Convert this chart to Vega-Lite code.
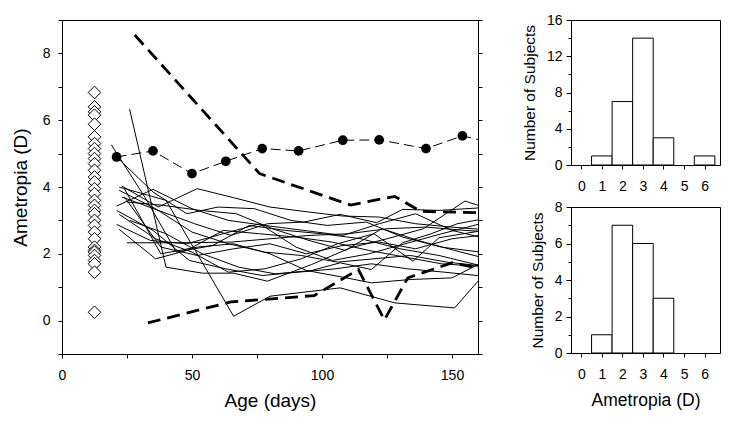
{
  "$schema": "https://vega.github.io/schema/vega-lite/v6.json",
  "padding": {"left": 10, "top": 12, "right": 5, "bottom": 5},
  "bounds": "flush",
  "spacing": 93,
  "background": "white",
  "config": {
    "font": "Liberation Sans",
    "view": {"stroke": "black", "strokeWidth": 1},
    "axis": {
      "grid": false,
      "domainColor": "black",
      "tickColor": "black",
      "labelColor": "black",
      "titleColor": "black",
      "labelFont": "Liberation Sans",
      "titleFont": "Liberation Sans",
      "titleFontWeight": "normal",
      "labelFontSize": 14,
      "labelFlush": false,
      "labelOverlap": false,
      "tickWidth": 1,
      "domainWidth": 1
    }
  },
  "datasets": {
    "subjects": [
      {"s": 1, "age": 26, "D": 6.33}, {"s": 1, "age": 40, "D": 1.6}, {"s": 1, "age": 54, "D": 1.42}, {"s": 1, "age": 66, "D": 1.42}, {"s": 1, "age": 79, "D": 1.18}, {"s": 1, "age": 96, "D": 1.68}, {"s": 1, "age": 111, "D": 2.18}, {"s": 1, "age": 125, "D": 2.45}, {"s": 1, "age": 139, "D": 2.75}, {"s": 1, "age": 155, "D": 3.58}, {"s": 1, "age": 166, "D": 3.3},
      {"s": 2, "age": 22, "D": 4.0}, {"s": 2, "age": 40, "D": 3.6}, {"s": 2, "age": 66, "D": 0.13}, {"s": 2, "age": 80, "D": 0.73}, {"s": 2, "age": 107, "D": 0.98}, {"s": 2, "age": 128, "D": 0.53}, {"s": 2, "age": 151, "D": 0.38}, {"s": 2, "age": 160, "D": 1.18}, {"s": 2, "age": 168, "D": 1.9},
      {"s": 3, "age": 19, "D": 5.26}, {"s": 3, "age": 32, "D": 3.68}, {"s": 3, "age": 44, "D": 2.05}, {"s": 3, "age": 58, "D": 2.25}, {"s": 3, "age": 72, "D": 2.85}, {"s": 3, "age": 86, "D": 2.7}, {"s": 3, "age": 100, "D": 2.6}, {"s": 3, "age": 115, "D": 2.45}, {"s": 3, "age": 130, "D": 2.15}, {"s": 3, "age": 145, "D": 1.95}, {"s": 3, "age": 166, "D": 1.55},
      {"s": 4, "age": 25, "D": 2.33}, {"s": 4, "age": 45, "D": 2.33}, {"s": 4, "age": 65, "D": 2.35}, {"s": 4, "age": 80, "D": 2.45}, {"s": 4, "age": 95, "D": 2.55}, {"s": 4, "age": 110, "D": 2.6}, {"s": 4, "age": 125, "D": 2.75}, {"s": 4, "age": 140, "D": 2.8}, {"s": 4, "age": 155, "D": 2.7}, {"s": 4, "age": 166, "D": 2.65},
      {"s": 5, "age": 21, "D": 4.9}, {"s": 5, "age": 35, "D": 3.85}, {"s": 5, "age": 48, "D": 3.2}, {"s": 5, "age": 60, "D": 3.4}, {"s": 5, "age": 74, "D": 3.35}, {"s": 5, "age": 88, "D": 3.0}, {"s": 5, "age": 102, "D": 2.85}, {"s": 5, "age": 117, "D": 2.95}, {"s": 5, "age": 131, "D": 2.5}, {"s": 5, "age": 146, "D": 2.2}, {"s": 5, "age": 166, "D": 2.0},
      {"s": 6, "age": 21, "D": 3.43}, {"s": 6, "age": 35, "D": 3.93}, {"s": 6, "age": 50, "D": 3.35}, {"s": 6, "age": 64, "D": 3.0}, {"s": 6, "age": 78, "D": 2.85}, {"s": 6, "age": 93, "D": 2.7}, {"s": 6, "age": 108, "D": 2.55}, {"s": 6, "age": 122, "D": 2.9}, {"s": 6, "age": 136, "D": 3.2}, {"s": 6, "age": 150, "D": 2.7}, {"s": 6, "age": 166, "D": 2.4},
      {"s": 7, "age": 21, "D": 2.88}, {"s": 7, "age": 34, "D": 2.4}, {"s": 7, "age": 48, "D": 2.3}, {"s": 7, "age": 62, "D": 2.6}, {"s": 7, "age": 76, "D": 2.9}, {"s": 7, "age": 90, "D": 2.2}, {"s": 7, "age": 104, "D": 1.8}, {"s": 7, "age": 118, "D": 2.0}, {"s": 7, "age": 132, "D": 2.3}, {"s": 7, "age": 146, "D": 2.6}, {"s": 7, "age": 166, "D": 3.0},
      {"s": 8, "age": 22, "D": 3.18}, {"s": 8, "age": 36, "D": 2.45}, {"s": 8, "age": 50, "D": 2.05}, {"s": 8, "age": 64, "D": 1.45}, {"s": 8, "age": 78, "D": 1.55}, {"s": 8, "age": 92, "D": 1.85}, {"s": 8, "age": 106, "D": 2.3}, {"s": 8, "age": 120, "D": 2.6}, {"s": 8, "age": 135, "D": 1.78}, {"s": 8, "age": 145, "D": 2.48}, {"s": 8, "age": 166, "D": 2.75},
      {"s": 9, "age": 22, "D": 2.73}, {"s": 9, "age": 36, "D": 1.85}, {"s": 9, "age": 48, "D": 2.1}, {"s": 9, "age": 62, "D": 2.7}, {"s": 9, "age": 76, "D": 2.6}, {"s": 9, "age": 90, "D": 2.5}, {"s": 9, "age": 104, "D": 2.35}, {"s": 9, "age": 118, "D": 2.1}, {"s": 9, "age": 132, "D": 1.9}, {"s": 9, "age": 146, "D": 1.7}, {"s": 9, "age": 166, "D": 1.6},
      {"s": 10, "age": 23, "D": 4.03}, {"s": 10, "age": 37, "D": 3.4}, {"s": 10, "age": 52, "D": 3.95}, {"s": 10, "age": 66, "D": 3.68}, {"s": 10, "age": 80, "D": 3.4}, {"s": 10, "age": 95, "D": 3.25}, {"s": 10, "age": 108, "D": 3.13}, {"s": 10, "age": 122, "D": 3.1}, {"s": 10, "age": 136, "D": 2.9}, {"s": 10, "age": 150, "D": 2.8}, {"s": 10, "age": 166, "D": 2.7},
      {"s": 11, "age": 24, "D": 3.95}, {"s": 11, "age": 38, "D": 2.0}, {"s": 11, "age": 52, "D": 2.2}, {"s": 11, "age": 66, "D": 2.3}, {"s": 11, "age": 80, "D": 2.0}, {"s": 11, "age": 94, "D": 1.5}, {"s": 11, "age": 108, "D": 1.3}, {"s": 11, "age": 119, "D": 1.13}, {"s": 11, "age": 134, "D": 1.23}, {"s": 11, "age": 150, "D": 1.28}, {"s": 11, "age": 160, "D": 1.68}, {"s": 11, "age": 166, "D": 2.0},
      {"s": 12, "age": 23, "D": 3.7}, {"s": 12, "age": 37, "D": 3.3}, {"s": 12, "age": 51, "D": 2.9}, {"s": 12, "age": 65, "D": 2.55}, {"s": 12, "age": 79, "D": 2.9}, {"s": 12, "age": 93, "D": 2.95}, {"s": 12, "age": 107, "D": 3.18}, {"s": 12, "age": 121, "D": 2.93}, {"s": 12, "age": 131, "D": 3.33}, {"s": 12, "age": 145, "D": 3.3}, {"s": 12, "age": 166, "D": 3.4},
      {"s": 13, "age": 25, "D": 3.55}, {"s": 13, "age": 39, "D": 3.45}, {"s": 13, "age": 53, "D": 3.3}, {"s": 13, "age": 67, "D": 3.2}, {"s": 13, "age": 81, "D": 2.75}, {"s": 13, "age": 95, "D": 2.4}, {"s": 13, "age": 109, "D": 2.1}, {"s": 13, "age": 123, "D": 2.75}, {"s": 13, "age": 137, "D": 2.4}, {"s": 13, "age": 151, "D": 2.1}, {"s": 13, "age": 166, "D": 1.8},
      {"s": 14, "age": 26, "D": 3.0}, {"s": 14, "age": 40, "D": 2.6}, {"s": 14, "age": 54, "D": 2.0}, {"s": 14, "age": 68, "D": 1.6}, {"s": 14, "age": 82, "D": 1.4}, {"s": 14, "age": 96, "D": 1.5}, {"s": 14, "age": 107, "D": 1.73}, {"s": 14, "age": 119, "D": 1.53}, {"s": 14, "age": 131, "D": 2.33}, {"s": 14, "age": 142, "D": 2.6}, {"s": 14, "age": 152, "D": 2.9}, {"s": 14, "age": 166, "D": 3.1},
      {"s": 15, "age": 21, "D": 3.3}, {"s": 15, "age": 35, "D": 2.7}, {"s": 15, "age": 49, "D": 1.8}, {"s": 15, "age": 63, "D": 1.55}, {"s": 15, "age": 77, "D": 1.35}, {"s": 15, "age": 91, "D": 1.45}, {"s": 15, "age": 105, "D": 1.55}, {"s": 15, "age": 119, "D": 1.7}, {"s": 15, "age": 133, "D": 1.55}, {"s": 15, "age": 147, "D": 1.45}, {"s": 15, "age": 166, "D": 1.3},
      {"s": 16, "age": 24, "D": 3.7}, {"s": 16, "age": 38, "D": 2.2}, {"s": 16, "age": 52, "D": 1.95}, {"s": 16, "age": 66, "D": 2.15}, {"s": 16, "age": 80, "D": 2.3}, {"s": 16, "age": 94, "D": 2.0}, {"s": 16, "age": 108, "D": 2.25}, {"s": 16, "age": 122, "D": 2.35}, {"s": 16, "age": 136, "D": 2.15}, {"s": 16, "age": 150, "D": 2.45}, {"s": 16, "age": 166, "D": 2.6},
      {"s": 17, "age": 22, "D": 3.9}, {"s": 17, "age": 36, "D": 3.35}, {"s": 17, "age": 50, "D": 2.65}, {"s": 17, "age": 64, "D": 2.3}, {"s": 17, "age": 78, "D": 2.05}, {"s": 17, "age": 92, "D": 1.95}, {"s": 17, "age": 106, "D": 1.75}, {"s": 17, "age": 120, "D": 1.85}, {"s": 17, "age": 134, "D": 1.95}, {"s": 17, "age": 148, "D": 1.75}, {"s": 17, "age": 166, "D": 1.6}
    ],
    "bounds": [
      {"b": "upper", "age": 28, "D": 8.55}, {"b": "upper", "age": 76, "D": 4.4}, {"b": "upper", "age": 111, "D": 3.46}, {"b": "upper", "age": 128, "D": 3.72}, {"b": "upper", "age": 138, "D": 3.27}, {"b": "upper", "age": 160, "D": 3.23}, {"b": "upper", "age": 168, "D": 3.2},
      {"b": "lower", "age": 33, "D": -0.07}, {"b": "lower", "age": 65, "D": 0.56}, {"b": "lower", "age": 97, "D": 0.75}, {"b": "lower", "age": 114, "D": 1.53}, {"b": "lower", "age": 124, "D": 0.02}, {"b": "lower", "age": 133, "D": 1.28}, {"b": "lower", "age": 150, "D": 1.73}, {"b": "lower", "age": 160, "D": 1.58}, {"b": "lower", "age": 168, "D": 1.45}
    ],
    "mean": [
      {"age": 21, "D": 4.9}, {"age": 35, "D": 5.08}, {"age": 50, "D": 4.4}, {"age": 63, "D": 4.77}, {"age": 77, "D": 5.15}, {"age": 91, "D": 5.08}, {"age": 108, "D": 5.4}, {"age": 122, "D": 5.41}, {"age": 140, "D": 5.15}, {"age": 154, "D": 5.53}, {"age": 168, "D": 5.28}
    ],
    "baseline": [
      {"age": 12.5, "D": 6.83}, {"age": 12.5, "D": 6.4}, {"age": 12.5, "D": 6.25}, {"age": 12.5, "D": 6.15}, {"age": 12.5, "D": 5.88}, {"age": 12.5, "D": 5.5}, {"age": 12.5, "D": 5.3}, {"age": 12.5, "D": 5.15}, {"age": 12.5, "D": 5.0}, {"age": 12.5, "D": 4.85}, {"age": 12.5, "D": 4.7}, {"age": 12.5, "D": 4.5}, {"age": 12.5, "D": 4.3}, {"age": 12.5, "D": 4.15}, {"age": 12.5, "D": 3.95}, {"age": 12.5, "D": 3.8}, {"age": 12.5, "D": 3.6}, {"age": 12.5, "D": 3.45}, {"age": 12.5, "D": 3.3}, {"age": 12.5, "D": 3.2}, {"age": 12.5, "D": 3.0}, {"age": 12.5, "D": 2.85}, {"age": 12.5, "D": 2.65}, {"age": 12.5, "D": 2.45}, {"age": 12.5, "D": 2.2}, {"age": 12.5, "D": 2.1}, {"age": 12.5, "D": 2.05}, {"age": 12.5, "D": 1.95}, {"age": 12.5, "D": 1.8}, {"age": 12.5, "D": 1.7}, {"age": 12.5, "D": 1.45}, {"age": 12.5, "D": 0.25}
    ],
    "hist_top": [
      {"lo": 0.5, "hi": 1.5, "count": 1}, {"lo": 1.5, "hi": 2.5, "count": 7}, {"lo": 2.5, "hi": 3.5, "count": 14}, {"lo": 3.5, "hi": 4.5, "count": 3}, {"lo": 5.5, "hi": 6.5, "count": 1}
    ],
    "hist_bottom": [
      {"lo": 0.5, "hi": 1.5, "count": 1}, {"lo": 1.5, "hi": 2.5, "count": 7}, {"lo": 2.5, "hi": 3.5, "count": 6}, {"lo": 3.5, "hi": 4.5, "count": 3}
    ]
  },
  "hconcat": [
    {
      "width": 416,
      "height": 334,
      "resolve": {"axis": {"y": "independent", "x": "independent"}},
      "layer": [
        {
          "encoding": {
            "x": {"field": "age", "type": "quantitative", "scale": {"domain": [0, 160], "nice": false, "zero": false},
                  "axis": {"values": [0, 25, 50, 75, 100, 125, 150], "labelExpr": "datum.value % 50 === 0 ? datum.label : ''", "tickSize": 4, "labelPadding": 10, "title": "Age (days)", "titleFontSize": 19, "titlePadding": 9}},
            "y": {"field": "D", "type": "quantitative", "scale": {"domain": [-1, 9], "nice": false, "zero": false},
                  "axis": {"values": [-1, 0, 1, 2, 3, 4, 5, 6, 7, 8, 9], "labelExpr": "datum.value % 2 === 0 ? datum.label : ''", "tickSize": 4, "labelPadding": 8, "title": "Ametropia (D)", "titleFontSize": 19, "titlePadding": 12}}
          },
          "layer": [
            {
              "data": {"name": "subjects"},
              "mark": {"type": "line", "color": "black", "strokeWidth": 1, "clip": true},
              "encoding": {"detail": {"field": "s", "type": "nominal"}}
            },
            {
              "data": {"name": "mean"},
              "mark": {"type": "line", "color": "black", "strokeWidth": 1, "strokeDash": [10, 5], "clip": true},
              "encoding": {}
            },
            {
              "data": {"name": "mean"},
              "mark": {"type": "point", "shape": "circle", "filled": true, "color": "black", "size": 95, "opacity": 1, "clip": true},
              "encoding": {}
            },
            {
              "data": {"name": "baseline"},
              "mark": {"type": "point", "shape": "diamond", "filled": true, "fill": "white", "stroke": "black", "strokeWidth": 1, "size": 160, "opacity": 1},
              "encoding": {}
            }
          ]
        },
        {
          "data": {"name": "bounds"},
          "mark": {"type": "line", "color": "black", "strokeWidth": 2.8, "strokeDash": [13, 7], "clip": true},
          "encoding": {
            "x": {"field": "age", "type": "quantitative", "scale": {"domain": [0, 160], "nice": false, "zero": false}, "axis": null},
            "y": {"field": "D", "type": "quantitative", "scale": {"domain": [-1, 9], "nice": false, "zero": false},
                  "axis": {"orient": "right", "values": [-1, 0, 1, 2, 3, 4, 5, 6, 7, 8, 9], "labels": false, "title": null, "tickSize": 4}},
            "detail": {"field": "b", "type": "nominal"}
          }
        }
      ]
    },
    {
      "bounds": "flush",
      "spacing": 42,
      "vconcat": [
        {
          "width": 149,
          "height": 145,
          "data": {"name": "hist_top"},
          "mark": {"type": "bar", "fill": "white", "stroke": "black", "strokeWidth": 1},
          "encoding": {
            "x": {"field": "lo", "type": "quantitative", "scale": {"domain": [-0.5, 6.75], "nice": false, "zero": false},
                  "axis": {"values": [0, 1, 2, 3, 4, 5, 6], "title": null, "tickSize": 4, "labelPadding": 10}},
            "x2": {"field": "hi"},
            "y": {"field": "count", "type": "quantitative", "scale": {"domain": [0, 16], "nice": false},
                  "axis": {"values": [0, 2, 4, 6, 8, 10, 12, 14, 16], "labelExpr": "datum.value % 4 === 0 ? datum.label : ''",
                           "tickSize": {"condition": {"test": "datum.value % 4 === 0", "value": 5}, "value": 3},
                           "labelPadding": 4, "title": "Number of Subjects", "titleFontSize": 15.5, "titlePadding": 9}},
            "y2": {"datum": 0}
          }
        },
        {
          "width": 149,
          "height": 146,
          "data": {"name": "hist_bottom"},
          "mark": {"type": "bar", "fill": "white", "stroke": "black", "strokeWidth": 1},
          "encoding": {
            "x": {"field": "lo", "type": "quantitative", "scale": {"domain": [-0.5, 6.75], "nice": false, "zero": false},
                  "axis": {"values": [0, 1, 2, 3, 4, 5, 6], "title": "Ametropia (D)", "titleFontSize": 17.5, "titlePadding": 10, "tickSize": 4, "labelPadding": 10}},
            "x2": {"field": "hi"},
            "y": {"field": "count", "type": "quantitative", "scale": {"domain": [0, 8], "nice": false},
                  "axis": {"values": [0, 1, 2, 3, 4, 5, 6, 7, 8], "labelExpr": "datum.value % 2 === 0 ? datum.label : ''",
                           "tickSize": {"condition": {"test": "datum.value % 2 === 0", "value": 5}, "value": 3},
                           "labelPadding": 4, "title": "Number of Subjects", "titleFontSize": 15.5, "titlePadding": 9}},
            "y2": {"datum": 0}
          }
        }
      ]
    }
  ]
}
